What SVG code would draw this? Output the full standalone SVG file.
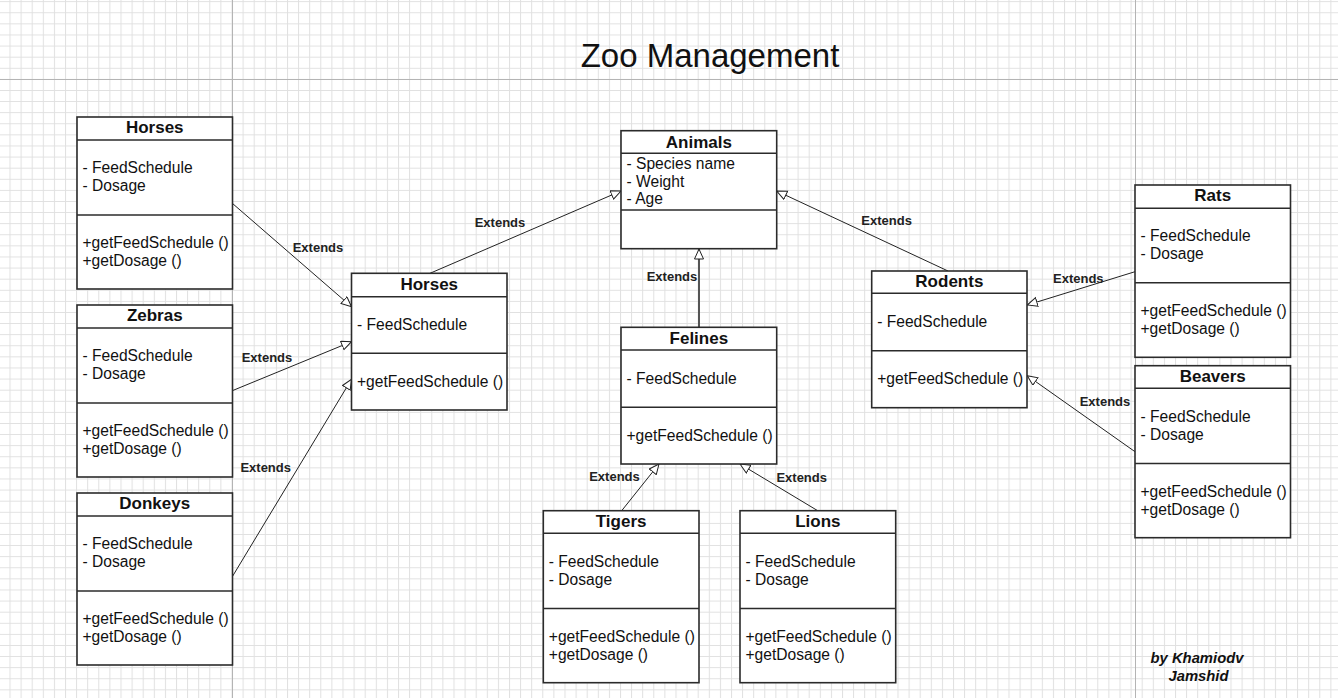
<svg xmlns="http://www.w3.org/2000/svg" width="1338" height="698" viewBox="0 0 1338 698">
<style>
.bx{fill:#fff;stroke:#2b2b2b;stroke-width:1.6}
.dv{stroke:#2b2b2b;stroke-width:1.6}
.h{font-family:"Liberation Sans",Arial,sans-serif;font-weight:bold;font-size:17px;fill:#111;text-anchor:middle}
.t{font-family:"Liberation Sans",Arial,sans-serif;font-size:15.6px;fill:#111}
.lbl{font-family:"Liberation Sans",Arial,sans-serif;font-weight:bold;font-size:13px;fill:#222;text-anchor:middle}
.cn{stroke:#222;stroke-width:1;fill:none;marker-end:url(#tri)}
.title{font-family:"Liberation Sans",Arial,sans-serif;font-size:33px;fill:#111;text-anchor:middle}
.auth{font-family:"Liberation Sans",Arial,sans-serif;font-weight:bold;font-style:italic;font-size:14.8px;fill:#111;text-anchor:middle}
</style>
<defs>
<pattern id="grid" patternUnits="userSpaceOnUse" x="9.5" y="1.2" width="11.1" height="11.1">
<path d="M0.5 0V11.1M0 0.5H11.1" stroke="#e0e0e0" stroke-width="1" fill="none"/>
</pattern>
<marker id="tri" markerUnits="userSpaceOnUse" markerWidth="12" markerHeight="12" refX="10.5" refY="5" orient="auto">
<path d="M0.5,0.5 L10.5,5 L0.5,9.5 Z" fill="#fff" stroke="#222" stroke-width="1"/>
</marker>
</defs>
<rect width="1338" height="698" fill="#fff"/>
<rect width="1338" height="698" fill="url(#grid)"/>
<g id="page-lines" stroke="#b4b4b4" stroke-width="1">
<line x1="232.5" y1="0" x2="232.5" y2="698"/>
<line x1="1135.5" y1="0" x2="1135.5" y2="698"/>
<line x1="0" y1="79.5" x2="1338" y2="79.5"/>
</g>
<text class="title" x="710" y="66.5">Zoo Management</text>

<g id="connectors">
<line class="cn" x1="232.3" y1="203.3" x2="351.5" y2="306.7"/>
<line class="cn" x1="232.3" y1="390.7" x2="351.5" y2="341.7"/>
<line class="cn" x1="232.3" y1="576.7" x2="351.5" y2="379.3"/>
<line class="cn" x1="430" y1="273.3" x2="621" y2="191"/>
<line class="cn" x1="699" y1="327.3" x2="699" y2="249" style="stroke:#555;stroke-width:2"/>
<line class="cn" x1="948" y1="271" x2="776.7" y2="191"/>
<line class="cn" x1="621.7" y1="510.7" x2="659" y2="464"/>
<line class="cn" x1="817.7" y1="510.7" x2="740" y2="464"/>
<line class="cn" x1="1135" y1="271.7" x2="1027.3" y2="305"/>
<line class="cn" x1="1135" y1="451.7" x2="1027.3" y2="375.7"/>
<text class="lbl" x="318" y="251.5">Extends</text>
<text class="lbl" x="267" y="361.5">Extends</text>
<text class="lbl" x="265.7" y="471.5">Extends</text>
<text class="lbl" x="500" y="226.5">Extends</text>
<text class="lbl" x="672" y="280.5">Extends</text>
<text class="lbl" x="886.6" y="224.5">Extends</text>
<text class="lbl" x="614.5" y="481.3">Extends</text>
<text class="lbl" x="801.7" y="481.7">Extends</text>
<text class="lbl" x="1078.3" y="283">Extends</text>
<text class="lbl" x="1105" y="406.2">Extends</text>
</g>

<g id="horses-left">
<rect class="bx" x="77" y="117" width="155.5" height="172"/>
<line class="dv" x1="77" y1="140" x2="232.5" y2="140"/>
<line class="dv" x1="77" y1="215" x2="232.5" y2="215"/>
<text class="h" x="154.75" y="133">Horses</text>
<text class="t" x="82.5" y="173">- FeedSchedule</text>
<text class="t" x="82.5" y="191">- Dosage</text>
<text class="t" x="82.5" y="248">+getFeedSchedule ()</text>
<text class="t" x="82.5" y="266">+getDosage ()</text>
</g>

<g id="zebras">
<rect class="bx" x="77" y="305" width="155.5" height="172"/>
<line class="dv" x1="77" y1="328" x2="232.5" y2="328"/>
<line class="dv" x1="77" y1="403" x2="232.5" y2="403"/>
<text class="h" x="154.75" y="321">Zebras</text>
<text class="t" x="82.5" y="361">- FeedSchedule</text>
<text class="t" x="82.5" y="379">- Dosage</text>
<text class="t" x="82.5" y="436">+getFeedSchedule ()</text>
<text class="t" x="82.5" y="454">+getDosage ()</text>
</g>

<g id="donkeys">
<rect class="bx" x="77" y="493" width="155.5" height="172"/>
<line class="dv" x1="77" y1="516" x2="232.5" y2="516"/>
<line class="dv" x1="77" y1="591" x2="232.5" y2="591"/>
<text class="h" x="154.75" y="509">Donkeys</text>
<text class="t" x="82.5" y="549">- FeedSchedule</text>
<text class="t" x="82.5" y="567">- Dosage</text>
<text class="t" x="82.5" y="624">+getFeedSchedule ()</text>
<text class="t" x="82.5" y="642">+getDosage ()</text>
</g>

<g id="horses-mid">
<rect class="bx" x="351.5" y="273.3" width="155.5" height="136.7"/>
<line class="dv" x1="351.5" y1="296.7" x2="507" y2="296.7"/>
<line class="dv" x1="351.5" y1="353.3" x2="507" y2="353.3"/>
<text class="h" x="429.25" y="290">Horses</text>
<text class="t" x="357" y="329.5">- FeedSchedule</text>
<text class="t" x="357" y="386.7">+getFeedSchedule ()</text>
</g>

<g id="animals">
<rect class="bx" x="621" y="130.7" width="155.7" height="118"/>
<line class="dv" x1="621" y1="153.3" x2="776.7" y2="153.3"/>
<line class="dv" x1="621" y1="210" x2="776.7" y2="210"/>
<text class="h" x="698.85" y="147.5">Animals</text>
<text class="t" x="626.5" y="169">- Species name</text>
<text class="t" x="626.5" y="186.7">- Weight</text>
<text class="t" x="626.5" y="204.4">- Age</text>
</g>

<g id="felines">
<rect class="bx" x="621" y="327.3" width="155.7" height="136.7"/>
<line class="dv" x1="621" y1="350" x2="776.7" y2="350"/>
<line class="dv" x1="621" y1="407.3" x2="776.7" y2="407.3"/>
<text class="h" x="698.85" y="343.5">Felines</text>
<text class="t" x="626.5" y="383.5">- FeedSchedule</text>
<text class="t" x="626.5" y="440.7">+getFeedSchedule ()</text>
</g>

<g id="tigers">
<rect class="bx" x="543.3" y="510.7" width="155.7" height="172"/>
<line class="dv" x1="543.3" y1="533.3" x2="699" y2="533.3"/>
<line class="dv" x1="543.3" y1="608.5" x2="699" y2="608.5"/>
<text class="h" x="621.15" y="526.7">Tigers</text>
<text class="t" x="548.8" y="566.5">- FeedSchedule</text>
<text class="t" x="548.8" y="584.5">- Dosage</text>
<text class="t" x="548.8" y="641.5">+getFeedSchedule ()</text>
<text class="t" x="548.8" y="659.5">+getDosage ()</text>
</g>

<g id="lions">
<rect class="bx" x="740" y="510.7" width="155.7" height="172"/>
<line class="dv" x1="740" y1="533.3" x2="895.7" y2="533.3"/>
<line class="dv" x1="740" y1="608.5" x2="895.7" y2="608.5"/>
<text class="h" x="817.85" y="526.7">Lions</text>
<text class="t" x="745.5" y="566.5">- FeedSchedule</text>
<text class="t" x="745.5" y="584.5">- Dosage</text>
<text class="t" x="745.5" y="641.5">+getFeedSchedule ()</text>
<text class="t" x="745.5" y="659.5">+getDosage ()</text>
</g>

<g id="rodents">
<rect class="bx" x="871.7" y="271" width="155.3" height="136.7"/>
<line class="dv" x1="871.7" y1="293.3" x2="1027" y2="293.3"/>
<line class="dv" x1="871.7" y1="350.7" x2="1027" y2="350.7"/>
<text class="h" x="949.35" y="287.3">Rodents</text>
<text class="t" x="877.2" y="327">- FeedSchedule</text>
<text class="t" x="877.2" y="384.4">+getFeedSchedule ()</text>
</g>

<g id="rats">
<rect class="bx" x="1135" y="185" width="155.5" height="172.3"/>
<line class="dv" x1="1135" y1="208.3" x2="1290.5" y2="208.3"/>
<line class="dv" x1="1135" y1="282.7" x2="1290.5" y2="282.7"/>
<text class="h" x="1212.75" y="201">Rats</text>
<text class="t" x="1140.5" y="241">- FeedSchedule</text>
<text class="t" x="1140.5" y="259">- Dosage</text>
<text class="t" x="1140.5" y="316">+getFeedSchedule ()</text>
<text class="t" x="1140.5" y="334">+getDosage ()</text>
</g>

<g id="beavers">
<rect class="bx" x="1135" y="365.7" width="155.5" height="172"/>
<line class="dv" x1="1135" y1="388.3" x2="1290.5" y2="388.3"/>
<line class="dv" x1="1135" y1="463.5" x2="1290.5" y2="463.5"/>
<text class="h" x="1212.75" y="381.7">Beavers</text>
<text class="t" x="1140.5" y="421.7">- FeedSchedule</text>
<text class="t" x="1140.5" y="439.7">- Dosage</text>
<text class="t" x="1140.5" y="496.7">+getFeedSchedule ()</text>
<text class="t" x="1140.5" y="514.7">+getDosage ()</text>
</g>

<g id="author">
<text class="auth" x="1197" y="663.3">by Khamiodv</text>
<text class="auth" x="1198.5" y="680.7">Jamshid</text>
</g>
</svg>
